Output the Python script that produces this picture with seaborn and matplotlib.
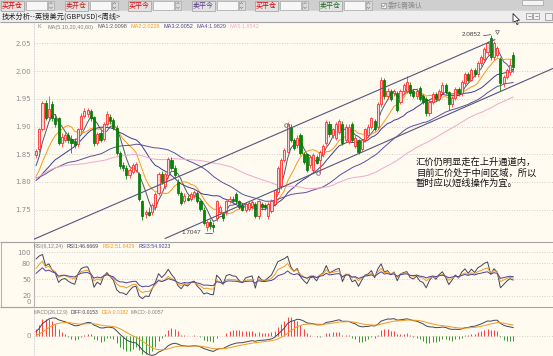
import numpy as np
import pandas as pd
import seaborn as sns
from matplotlib import pyplot as plt
from matplotlib.patches import Rectangle, Polygon

# Weekly GBPUSD candles, oldest first
opens = [1.848, 1.860, 1.896, 1.943, 1.918, 1.940, 1.915, 1.915, 1.870, 1.876,
         1.885, 1.878, 1.874, 1.868, 1.895, 1.920, 1.922, 1.928, 1.918, 1.870,
         1.888, 1.878, 1.905, 1.918, 1.912, 1.898, 1.852, 1.830, 1.826, 1.812,
         1.818, 1.822, 1.815, 1.765, 1.742, 1.745, 1.745, 1.755, 1.780, 1.815,
         1.792, 1.812, 1.840, 1.826, 1.800, 1.780, 1.765, 1.772, 1.770, 1.776,
         1.780, 1.765, 1.750, 1.718, 1.728, 1.722, 1.735, 1.745, 1.742, 1.745,
         1.765, 1.770, 1.778, 1.765, 1.758, 1.750, 1.752, 1.756, 1.760, 1.738,
         1.760, 1.758, 1.738, 1.748, 1.760, 1.782, 1.792, 1.840, 1.855, 1.900,
         1.875, 1.866, 1.885, 1.850, 1.850, 1.830, 1.822, 1.845, 1.840, 1.850,
         1.870, 1.905, 1.885, 1.880, 1.890, 1.905, 1.875, 1.872, 1.905, 1.865,
         1.875, 1.860, 1.875, 1.885, 1.900, 1.910, 1.900, 1.940, 1.985, 1.955,
         1.965, 1.960, 1.960, 1.945, 1.965, 1.965, 1.975, 1.965, 1.955, 1.970,
         1.955, 1.950, 1.925, 1.945, 1.958, 1.950, 1.962, 1.975, 1.962, 1.940,
         1.952, 1.968, 1.960, 1.978, 1.995, 1.985, 2.002, 1.995, 2.015, 2.022,
         2.035, 2.060, 2.025, 2.030, 2.022, 1.978, 1.990, 1.998, 2.030]
highs = [1.860, 1.898, 1.946, 1.948, 1.956, 1.946, 1.922, 1.918, 1.888, 1.890,
         1.890, 1.884, 1.880, 1.898, 1.924, 1.933, 1.934, 1.932, 1.920, 1.890,
         1.894, 1.908, 1.928, 1.922, 1.916, 1.902, 1.856, 1.836, 1.830, 1.826,
         1.834, 1.836, 1.818, 1.768, 1.750, 1.755, 1.762, 1.782, 1.818, 1.820,
         1.818, 1.846, 1.846, 1.830, 1.805, 1.784, 1.780, 1.776, 1.782, 1.785,
         1.784, 1.768, 1.754, 1.732, 1.734, 1.728, 1.768, 1.758, 1.746, 1.768,
         1.774, 1.775, 1.782, 1.768, 1.762, 1.764, 1.766, 1.768, 1.764, 1.768,
         1.764, 1.762, 1.764, 1.770, 1.788, 1.828, 1.844, 1.862, 1.908, 1.904,
         1.880, 1.884, 1.888, 1.854, 1.852, 1.848, 1.852, 1.848, 1.858, 1.868,
         1.912, 1.910, 1.898, 1.908, 1.914, 1.910, 1.904, 1.904, 1.908, 1.884,
         1.878, 1.878, 1.898, 1.904, 1.918, 1.914, 1.944, 1.990, 1.988, 1.970,
         1.968, 1.968, 1.964, 1.968, 1.978, 1.992, 1.980, 1.968, 1.970, 1.974,
         1.958, 1.954, 1.948, 1.962, 1.962, 1.968, 1.980, 1.978, 1.965, 1.956,
         1.972, 1.972, 1.984, 1.998, 1.998, 2.006, 2.006, 2.018, 2.030, 2.044,
         2.055, 2.066, 2.054, 2.046, 2.026, 1.994, 2.006, 2.022, 2.034]
lows = [1.844, 1.855, 1.892, 1.912, 1.912, 1.910, 1.900, 1.866, 1.864, 1.872,
        1.870, 1.853, 1.862, 1.864, 1.890, 1.915, 1.918, 1.910, 1.865, 1.866,
        1.872, 1.874, 1.900, 1.905, 1.894, 1.848, 1.824, 1.820, 1.806, 1.808,
        1.814, 1.818, 1.766, 1.732, 1.735, 1.738, 1.740, 1.750, 1.776, 1.796,
        1.788, 1.808, 1.822, 1.808, 1.776, 1.758, 1.762, 1.765, 1.766, 1.772,
        1.762, 1.748, 1.722, 1.712, 1.716, 1.710, 1.730, 1.742, 1.730, 1.740,
        1.762, 1.764, 1.762, 1.752, 1.748, 1.746, 1.748, 1.752, 1.735, 1.734,
        1.752, 1.750, 1.734, 1.744, 1.756, 1.778, 1.788, 1.836, 1.852, 1.872,
        1.858, 1.862, 1.848, 1.832, 1.818, 1.826, 1.818, 1.832, 1.817, 1.846,
        1.866, 1.882, 1.880, 1.876, 1.886, 1.866, 1.872, 1.868, 1.872, 1.862,
        1.850, 1.856, 1.872, 1.882, 1.896, 1.892, 1.896, 1.936, 1.950, 1.950,
        1.946, 1.956, 1.926, 1.940, 1.960, 1.960, 1.956, 1.952, 1.950, 1.946,
        1.940, 1.920, 1.920, 1.940, 1.946, 1.946, 1.958, 1.958, 1.930, 1.936,
        1.948, 1.955, 1.956, 1.974, 1.980, 1.982, 1.990, 1.990, 2.010, 2.018,
        2.030, 2.020, 2.020, 2.026, 1.965, 1.972, 1.986, 1.994, 2.000]
closes = [1.856, 1.895, 1.943, 1.915, 1.932, 1.915, 1.905, 1.870, 1.882, 1.885,
          1.876, 1.870, 1.866, 1.895, 1.920, 1.928, 1.930, 1.915, 1.870, 1.886,
          1.876, 1.905, 1.922, 1.910, 1.898, 1.852, 1.828, 1.826, 1.812, 1.822,
          1.830, 1.832, 1.770, 1.738, 1.745, 1.740, 1.758, 1.778, 1.814, 1.800,
          1.815, 1.842, 1.826, 1.812, 1.780, 1.762, 1.775, 1.768, 1.778, 1.782,
          1.765, 1.752, 1.726, 1.728, 1.720, 1.718, 1.765, 1.755, 1.735, 1.765,
          1.770, 1.766, 1.765, 1.755, 1.750, 1.760, 1.762, 1.764, 1.738, 1.765,
          1.755, 1.754, 1.760, 1.766, 1.785, 1.825, 1.840, 1.858, 1.904, 1.876,
          1.862, 1.880, 1.852, 1.836, 1.822, 1.845, 1.848, 1.835, 1.855, 1.865,
          1.908, 1.886, 1.895, 1.905, 1.910, 1.870, 1.900, 1.900, 1.875, 1.880,
          1.855, 1.875, 1.895, 1.900, 1.915, 1.895, 1.940, 1.985, 1.955, 1.965,
          1.950, 1.965, 1.930, 1.965, 1.975, 1.980, 1.960, 1.955, 1.965, 1.950,
          1.945, 1.925, 1.945, 1.958, 1.950, 1.965, 1.975, 1.962, 1.940, 1.952,
          1.968, 1.960, 1.980, 1.995, 1.985, 2.002, 1.995, 2.015, 2.025, 2.040,
          2.050, 2.025, 2.050, 2.042, 1.978, 1.990, 2.003, 2.012, 2.007]

# weeks before the visible window, only used to warm up the indicators
prior_closes = [1.700, 1.690, 1.720, 1.735, 1.755, 1.775, 1.780, 1.790, 1.815, 1.830,
                1.835, 1.850, 1.860, 1.880, 1.900, 1.860, 1.845, 1.830, 1.815, 1.830,
                1.850, 1.835, 1.790, 1.775, 1.780, 1.765, 1.785, 1.770, 1.775, 1.790,
                1.820, 1.835, 1.830, 1.845, 1.860, 1.850, 1.830, 1.835, 1.810, 1.820,
                1.805, 1.790, 1.790, 1.805, 1.780, 1.785, 1.795, 1.800, 1.805, 1.800,
                1.785, 1.785, 1.790, 1.795, 1.800, 1.810, 1.815, 1.825, 1.840]

ma_periods = [5, 10, 20, 40, 60]
ma_labels = ['MA1:2.0098', 'MA2:2.0226', 'MA3:2.0052', 'MA4:1.9829', 'MA5:1.9542']
rsi_periods = [6, 12, 24]
rsi_labels = ['RSI1:46.6669', 'RSI2:51.8429', 'RSI3:54.9223']
macd_labels = ['DIFF:0.0153', 'DEA:0.0182', 'MACD:-0.0057']
price_ticks = [1.75, 1.80, 1.85, 1.90, 1.95, 2.00, 2.05]
rsi_ticks = [20, 50, 80, 100]
buttons = ['买开仓', '卖开仓', '买平今', '卖平今', '买平仓', '卖平仓']
note_lines = ['汇价仍明显走在上升通道内，', '目前汇价处于中间区域，所以', '暂时应以短线操作为宜。']

# hand-drawn channel, (bar, price) end points
channel_lines = [((-0.93, 1.696), (142.3, 2.057)),
                 ((40.0, 1.698), (160.3, 2.005))]
channel_marks = [(77.5, 1.902), (87.4, 1.817)]

# colours
BG = '#fffbf0'
ma_colors = ['#55556a', '#f39a1e', '#3d3d8f', '#5a4fa0', '#eeaacc']
line_colors = ['#44445a', '#f39a1e', '#4a40a0']
btn_colors = ['#e00000', '#c02020', '#e00000', '#5a3c8c', '#e00000', '#1e6e1e']
GRID = dict(color='#c4c4c4', ls=(0, (1, 2)), lw=0.6)
XLIM = (-0.62, 160.3)

sns.set_style('white')
plt.rcParams['font.family'] = ['Noto Sans CJK SC', 'DejaVu Sans']

W, H = 553, 356
fig = plt.figure(figsize=(W / 100, H / 100), dpi=100, facecolor=BG)


def box(x0, y0, x1, y1, **kw):
    # axes placed by a pixel box, y counted from the top
    return fig.add_axes([x0 / W, 1 - y1 / H, (x1 - x0) / W, (y1 - y0) / H], **kw)


def ftext(x, y, s, size=4.0, color='#808080', **kw):
    kw.setdefault('va', 'center')
    kw.setdefault('family', ['Liberation Sans', 'DejaVu Sans'])
    fig.text(x / W, 1 - y / H, s, fontsize=size, color=color, **kw)


def tidy(a, ticks, labels):
    a.set_xlim(*XLIM)
    a.set_yticks(ticks)
    a.set_yticklabels(labels, family='DejaVu Sans')
    a.set_xticks([])
    a.tick_params(axis='y', labelsize=5, labelcolor='#8c8c8c', length=0, pad=2.2)
    a.grid(axis='y', **GRID)
    a.set_xlabel('')
    a.set_ylabel('')
    sns.despine(ax=a, left=True, bottom=True)


df = pd.DataFrame({'bar': np.arange(len(closes)), 'open': opens, 'high': highs,
                   'low': lows, 'close': closes})
full = pd.Series(prior_closes + closes)
skip = len(prior_closes)

# ---- window frame: toolbar, title bar, panel borders
ui = box(0, 0, W, H, zorder=-5)
ui.set_xlim(0, W)
ui.set_ylim(H, 0)
ui.axis('off')
ui.add_patch(Rectangle((0, 0), W, 11, color='#cfcfcf'))
ui.add_patch(Rectangle((0, 11), W, 10.5, color='#eeeeee'))
for k, label in enumerate(buttons):
    x0 = 1 + 63.5 * k
    ui.add_patch(Rectangle((x0, 0.5), 23, 10, facecolor='#e2e2e2', edgecolor='#9c9c9c', lw=0.5))
    ui.text(x0 + 11.5, 5.8, label, color=btn_colors[k], fontsize=5, ha='center', va='center')
    ui.add_patch(Rectangle((x0 + 25, 0.8), 21, 9.4, facecolor='#f7f7f7', edgecolor='#a8a8a8', lw=0.5))
    ui.add_patch(Rectangle((x0 + 47, 0.8), 6, 9.4, facecolor='#dadada', edgecolor='#a8a8a8', lw=0.5))
    ui.plot([x0 + 48.5, x0 + 50, x0 + 51.5], [4, 2.5, 4], color='#707070', lw=0.4)
    ui.plot([x0 + 48.5, x0 + 50, x0 + 51.5], [7, 8.5, 7], color='#707070', lw=0.4)
ui.add_patch(Rectangle((381, 3), 5, 5, facecolor='#f4f4f4', edgecolor='#909090', lw=0.5))
ui.plot([382, 383.5, 385.5], [5.5, 7, 3.8], color='#808080', lw=0.5)
ui.text(388, 5.8, '委托需确认', color='#8a8a8a', fontsize=5, va='center')
ui.add_patch(Rectangle((522, 0), 21, 5, facecolor='#f4f4f4', edgecolor='#a0a0a0', lw=0.5))
ui.text(2, 16.4, '技术分析--英镑美元(GBPUSD)<周线>', color='#202020', fontsize=5.2, va='center')
ui.add_patch(Polygon([(513, 13.5), (513, 23), (515.2, 21), (517, 24.5), (518.2, 24), (516.6, 20.4),
                      (519.5, 20.2)], closed=True, facecolor='white', edgecolor='black', lw=0.5))
for x0 in (526, 533):
    ui.add_patch(Rectangle((x0, 13), 6, 6, facecolor='#f4f4f4', edgecolor='#8c8c8c', lw=0.5))
    ui.hlines(16, x0 + 1.5, x0 + 4.5, color='#707070', lw=0.5)
ui.add_patch(Rectangle((545, 12.5), 7, 7, facecolor='#f0f0f0', edgecolor='#8c8c8c', lw=0.5))
ui.hlines([21.5, 241.5, 306.5], 0, W, color='#a4a4a4', lw=0.8)
ui.vlines(33.5, 21.5, 241.5, color='#b8bcd0', ls=(0, (1, 1)), lw=0.6)
ui.vlines(33.5, 306.5, H, color='#b8bcd0', ls=(0, (1, 1)), lw=0.6)
ui.add_patch(Rectangle((0.5, 241.5), 33, 65, fill=False, edgecolor='#b4b4b4', lw=0.8))

# ---- price panel
ax = box(34, 21.5, W, 241.5, facecolor='none')
up = df['close'] >= df['open']
ax.vlines(df['bar'], df['low'], df['high'], colors=np.where(up, '#ff3c3c', '#138a13'), lw=0.6, zorder=3)
ax.bar(df['bar'][up], (df['close'] - df['open'])[up], bottom=df['open'][up], width=0.66,
       facecolor='#ffd4d4', edgecolor='#ff2c2c', lw=0.6, zorder=4)
ax.bar(df['bar'][~up], (df['open'] - df['close'])[~up], bottom=df['close'][~up], width=0.66,
       facecolor='#008c00', edgecolor='#006a00', lw=0.5, zorder=4)
for n, c in zip(ma_periods, ma_colors):
    ma = full.rolling(n, min_periods=1).mean().iloc[skip:].to_numpy()
    sns.lineplot(x=df['bar'], y=ma, ax=ax, color=c, lw=0.7, zorder=2)
for (x0, y0), (x1, y1) in channel_lines:
    ax.plot([x0, x1], [y0, y1], color='#55557a', lw=0.8, zorder=5)
for x, y in channel_marks:
    ax.plot(x, y, 'o', ms=2.6, mfc='none', mec='#707080', mew=0.6, zorder=6)
ax.set_ylim(1.6926, 2.0897)
tidy(ax, price_ticks, [f'{v:.2f}' for v in price_ticks])

# high / low marks
hi_bar = int(np.argmax(highs))
ftext(462, 35, '2.0852', size=4.6, color='#404040')
ax.plot([hi_bar - 2.3, hi_bar], [highs[hi_bar] - 0.002, highs[hi_bar]], color='#404040', lw=0.5, zorder=6)
ax.plot(hi_bar + 1.8, highs[hi_bar] + 0.005, 'v', ms=2.8, mfc='none', mec='#606070', mew=0.5, zorder=6)
lo_bar = int(np.argmin(lows))
ftext(181, 233, '1.7047', size=4.6, color='#404040')
ax.plot([lo_bar - 2.6, lo_bar - 0.3], [1.7075, 1.7075], color='#404040', lw=0.5, zorder=6)

ftext(37, 27, 'K')
ftext(47, 27, 'MA(5,10,20,40,60)')
for x, s, c in zip([98, 130.5, 163.5, 196.5, 229.5], ma_labels, ma_colors):
    ftext(x, 27, s, color=c)

for k, s in enumerate(note_lines):
    ftext(416, 162.5 + 10.3 * k, s, size=6.7, color='#111111', family=['Noto Sans CJK SC'])

# ---- RSI panel
ax_rsi = box(34, 241.5, W, 306.7, facecolor='none')
chg = full.diff().fillna(0)
for n, c in zip(rsi_periods, line_colors):
    gain = chg.clip(lower=0).ewm(alpha=1 / n, adjust=False).mean()
    move = chg.abs().ewm(alpha=1 / n, adjust=False).mean()
    rsi = (gain / move * 100).fillna(50).iloc[skip:].to_numpy()
    sns.lineplot(x=df['bar'], y=rsi, ax=ax_rsi, color=c, lw=0.7)
ax_rsi.set_ylim(0, 119.5)
tidy(ax_rsi, rsi_ticks, [str(v) for v in rsi_ticks])
ftext(31, 302, '0', size=5, color='#8c8c8c', ha='right', family='DejaVu Sans')
ftext(34, 246.5, 'RSI(6,12,24)', size=3.8)
for x, s, c in zip([67, 103, 139], rsi_labels, line_colors):
    ftext(x, 246.5, s, size=3.8, color=c)

# ---- MACD panel
ax_macd = box(34, 306.7, W, 356, facecolor='none')
diff = full.ewm(span=12, adjust=False).mean() - full.ewm(span=26, adjust=False).mean()
dea = diff.ewm(span=9, adjust=False).mean()
hist = (2 * (diff - dea)).iloc[skip:].to_numpy()
ax_macd.vlines(df['bar'], 0, hist, colors=np.where(hist >= 0, '#ff2020', '#138a13'), lw=0.6)
sns.lineplot(x=df['bar'], y=diff.iloc[skip:].to_numpy(), ax=ax_macd, color=line_colors[0], lw=0.7)
sns.lineplot(x=df['bar'], y=dea.iloc[skip:].to_numpy(), ax=ax_macd, color=line_colors[1], lw=0.7)
ax_macd.set_ylim(-0.034, 0.0498)
tidy(ax_macd, [0], ['0'])
ftext(34, 312.3, 'MACD(26,12,9)', size=3.6)
for x, s, c in zip([70.5, 102, 131], macd_labels, [line_colors[0], line_colors[1], '#808080']):
    ftext(x, 312.3, s, size=3.6, color=c)

fig.savefig('out.png', dpi=100, facecolor=BG)
